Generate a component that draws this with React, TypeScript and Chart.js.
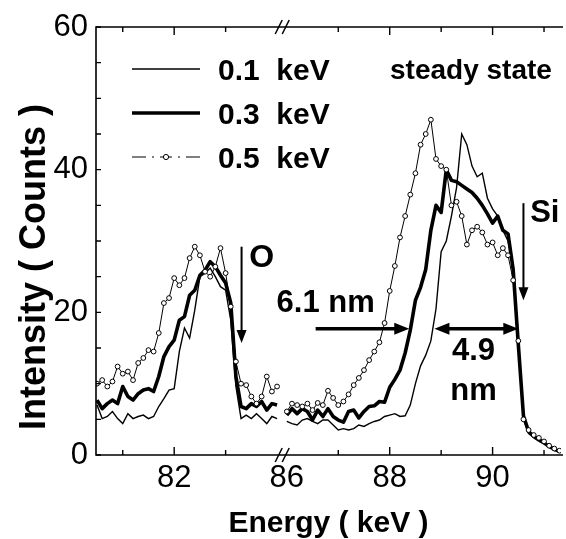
import React, { useEffect, useRef } from 'react';
import { Chart, registerables } from 'chart.js';

Chart.register(...registerables);

// ---------- data ----------
const leftEnergy = [80.5, 80.6, 80.7, 80.8, 80.9, 81.0, 81.1, 81.2, 81.3, 81.4, 81.5, 81.6, 81.7, 81.8, 81.9,
  82.0, 82.1, 82.2, 82.3, 82.4, 82.5, 82.6, 82.7, 82.8, 82.9, 83.0, 83.1, 83.2, 83.3, 83.4, 83.5, 83.6, 83.7,
  83.8, 83.9, 84.0];
const rightEnergy = [86.0, 86.1, 86.2, 86.3, 86.4, 86.5, 86.6, 86.7, 86.8, 86.9, 87.0, 87.1, 87.2, 87.3, 87.4,
  87.5, 87.6, 87.7, 87.8, 87.9, 88.0, 88.1, 88.2, 88.3, 88.4, 88.5, 88.6, 88.7, 88.8, 88.9, 89.0, 89.1, 89.2,
  89.3, 89.4, 89.5, 89.6, 89.7, 89.8, 89.9, 90.0, 90.1, 90.2, 90.3, 90.4, 90.5, 90.6, 90.7, 90.8, 90.9, 91.0,
  91.1, 91.2, 91.3];

const kev01Left = [7.0, 5.1, 5.4, 6.1, 5.1, 4.4, 5.8, 5.1, 5.4, 5.6, 5.1, 5.4, 6.8, 7.9, 9.1, 9.3, 14.5, 17.8,
  16.4, 20.3, 25.0, 25.5, 26.2, 25.0, 23.6, 23.1, 18.9, 9.6, 5.1, 5.6, 5.1, 5.8, 5.1, 4.4, 5.4, 5.1];
const kev03Left = [7.7, 6.5, 7.2, 7.7, 7.2, 9.6, 8.2, 7.7, 8.6, 9.1, 9.3, 8.9, 11.0, 13.8, 15.2, 16.1, 18.9, 19.4,
  22.4, 23.1, 25.2, 25.9, 27.1, 26.4, 25.2, 24.1, 21.3, 11.0, 6.8, 6.5, 7.2, 6.8, 7.5, 6.3, 7.2, 7.0];
const kev05Left = [10.0, 10.5, 9.6, 10.3, 12.4, 11.4, 11.7, 10.5, 12.9, 13.6, 14.7, 14.5, 17.1, 21.3, 22.0, 24.8,
  23.8, 24.8, 27.6, 29.2, 28.0, 25.7, 25.0, 26.4, 29.0, 25.5, 20.8, 13.1, 10.0, 9.8, 8.2, 7.2, 8.2, 11.0, 8.9, 9.6];

const kev01Right = [4.7, 4.4, 4.2, 4.9, 5.1, 4.7, 4.4, 4.9, 4.9, 4.2, 3.5, 3.7, 3.5, 3.7, 4.2, 4.0, 4.4, 4.7, 4.9,
  5.4, 5.6, 5.8, 5.4, 5.5, 7.0, 10.0, 12.5, 14.0, 16.0, 20.5, 28.5, 30.0, 33.5, 37.5, 45.0, 43.5, 40.5, 39.0, 39.5,
  36.0, 34.5, 33.5, 31.5, 30.0, 26.5, 16.0, 5.0, 3.0, 2.5, 2.0, 1.7, 1.2, 0.7, 0.5];
const kev03Right = [5.6, 6.5, 5.8, 6.5, 6.1, 4.9, 6.3, 5.4, 6.5, 5.4, 4.9, 4.6, 6.1, 6.3, 5.2, 6.1, 6.8, 6.9, 7.5,
  7.4, 9.5, 10.6, 11.9, 14.3, 17.5, 21.7, 23.5, 26.0, 31.5, 35.0, 34.0, 40.0, 38.5, 38.3, 37.8, 37.3, 36.8, 36.0,
  35.0, 33.8, 32.5, 33.5, 31.5, 31.0, 26.0, 15.5, 5.5, 3.3, 2.6, 2.1, 1.7, 1.2, 0.8, 0.5];
const kev05Right = [6.1, 7.2, 7.0, 6.8, 7.2, 6.3, 7.3, 7.0, 9.0, 8.0, 7.0, 7.5, 8.5, 9.8, 10.8, 11.9, 13.3, 14.5,
  15.8, 18.5, 23.0, 26.5, 30.5, 33.5, 36.5, 39.5, 43.5, 45.0, 47.0, 41.5, 40.5, 40.0, 35.0, 35.5, 33.5, 29.5, 31.5,
  32.0, 31.2, 29.5, 29.8, 28.0, 29.0, 28.0, 24.5, 16.0, 5.0, 3.5, 2.8, 2.4, 1.9, 1.3, 0.9, 0.6];

const seriesLabels = ['0.1  keV', '0.3  keV', '0.5  keV'];
const xTickLabels = [82, 86, 88, 90];
const xMajorTicks = [82, 88, 90];
const xMinorTicks = [81, 83, 87, 89, 91];
const yTickLabels = [0, 20, 40, 60];
const yMinorTicks = [5, 10, 15, 20, 25, 30, 35, 40, 45, 50, 55];

// ---------- axis break (84.19 on the drawn axis corresponds to 86 keV) ----------
const BREAK_SHIFT = 1.81;
const toAxis = (e: number) => (e >= 85 ? e - BREAK_SHIFT : e);

const FONT = '"Liberation Sans", Arial, Helvetica, sans-serif';

function series(left: number[], right: number[]) {
  return [
    ...leftEnergy.map((e, i) => ({ x: toAxis(e), y: left[i] })),
    { x: 84.1, y: null as any },
    ...rightEnergy.map((e, i) => ({ x: toAxis(e), y: right[i] })),
  ];
}

function head(ctx: CanvasRenderingContext2D, x: number, y: number, ang: number, len: number, half: number) {
  const c = Math.cos(ang), s = Math.sin(ang);
  ctx.beginPath();
  ctx.moveTo(x, y);
  ctx.lineTo(x - len * c + half * s, y - len * s - half * c);
  ctx.lineTo(x - len * c - half * s, y - len * s + half * c);
  ctx.closePath();
  ctx.fill();
}

function arrow(ctx: CanvasRenderingContext2D, x1: number, y1: number, x2: number, y2: number,
  w: number, len: number, half: number, both = false) {
  const ang = Math.atan2(y2 - y1, x2 - x1);
  const c = Math.cos(ang), s = Math.sin(ang);
  ctx.lineWidth = w;
  ctx.beginPath();
  ctx.moveTo(both ? x1 + c * len * 0.7 : x1, both ? y1 + s * len * 0.7 : y1);
  ctx.lineTo(x2 - c * len * 0.7, y2 - s * len * 0.7);
  ctx.stroke();
  head(ctx, x2, y2, ang, len, half);
  if (both) head(ctx, x1, y1, ang + Math.PI, len, half);
}

const decor = {
  id: 'decor',
  afterDraw(chart: any) {
    const { ctx, chartArea: a, scales } = chart;
    const xs = scales.x, ys = scales.y;
    const X = (e: number) => xs.getPixelForValue(toAxis(e));
    const Y = (v: number) => ys.getPixelForValue(v);
    ctx.save();
    ctx.strokeStyle = '#000';
    ctx.fillStyle = '#000';
    ctx.lineCap = 'butt';

    // frame
    ctx.lineWidth = 1.6;
    ctx.beginPath();
    ctx.moveTo(a.right + 2, a.top);
    ctx.lineTo(a.left, a.top);
    ctx.lineTo(a.left, a.bottom);
    ctx.lineTo(a.right + 2, a.bottom);
    ctx.stroke();

    // ticks (inward)
    ctx.lineWidth = 1.4;
    ctx.beginPath();
    [...yTickLabels, ...yMinorTicks].forEach((v) => {
      const py = Y(v);
      ctx.moveTo(a.left, py); ctx.lineTo(a.left + 5, py);
    });
    xMajorTicks.forEach((e) => {
      const px = X(e);
      ctx.moveTo(px, a.bottom); ctx.lineTo(px, a.bottom - 8);
      ctx.moveTo(px, a.top); ctx.lineTo(px, a.top + 8);
    });
    xMinorTicks.forEach((e) => {
      const px = X(e);
      ctx.moveTo(px, a.bottom); ctx.lineTo(px, a.bottom - 5);
      ctx.moveTo(px, a.top); ctx.lineTo(px, a.top + 5);
    });
    ctx.stroke();

    // break marks //
    const bc = xs.getPixelForValue(84.1);
    ctx.lineWidth = 1.5;
    ctx.beginPath();
    [a.top, a.bottom].forEach((ay) => {
      [-3.5, 3.5].forEach((dx) => {
        ctx.moveTo(bc + dx - 3.5, ay + 7);
        ctx.lineTo(bc + dx + 3.5, ay - 7);
      });
    });
    ctx.stroke();

    // legend
    const rows = [69, 113, 157];
    ctx.lineWidth = 1.4;
    ctx.beginPath(); ctx.moveTo(132, rows[0]); ctx.lineTo(200, rows[0]); ctx.stroke();
    ctx.lineWidth = 3.6;
    ctx.beginPath(); ctx.moveTo(132, rows[1]); ctx.lineTo(200, rows[1]); ctx.stroke();
    ctx.lineWidth = 1.2;
    ctx.beginPath();
    [[132, 146], [152, 154], [160, 172], [178, 180], [186, 200]].forEach(([s, e]) => {
      ctx.moveTo(s, rows[2]); ctx.lineTo(e, rows[2]);
    });
    ctx.stroke();
    ctx.beginPath(); ctx.arc(166, rows[2], 2.6, 0, Math.PI * 2);
    ctx.fillStyle = '#fff'; ctx.fill(); ctx.lineWidth = 1; ctx.stroke();
    ctx.fillStyle = '#000';
    ctx.font = `bold 30px ${FONT}`;
    ctx.textBaseline = 'alphabetic';
    ctx.textAlign = 'left';
    seriesLabels.forEach((t, i) => ctx.fillText(t, 218, rows[i] + 11));

    ctx.font = `bold 28px ${FONT}`;
    ctx.fillText('steady state', 390, 79);

    // annotations
    ctx.lineCap = 'butt';
    arrow(ctx, X(83.31), Y(29.2), X(83.31), Y(15.7), 2, 13, 5);
    ctx.font = `bold 32px ${FONT}`;
    ctx.fillText('O', X(83.46), Y(26.4));

    arrow(ctx, X(86.56), Y(17.7), X(88.38), Y(17.7), 3.6, 15, 6);
    ctx.font = `bold 31px ${FONT}`;
    ctx.fillText('6.1 nm', X(85.8), Y(20.1));

    arrow(ctx, X(88.87), Y(17.7), X(90.5), Y(17.7), 3.6, 15, 6, true);
    ctx.textAlign = 'center';
    ctx.fillText('4.9', X(89.63), Y(13.3));
    ctx.fillText('nm', X(89.63), Y(7.7));

    arrow(ctx, X(90.6), Y(35.3), X(90.6), Y(21.7), 2, 13, 5);
    ctx.textAlign = 'left';
    ctx.fillText('Si', X(90.73), Y(32.7));

    // axis titles
    ctx.font = `bold 30px ${FONT}`;
    ctx.textAlign = 'center';
    ctx.fillText('Energy ( keV )', (a.left + a.right) / 2, 532);
    ctx.save();
    ctx.translate(45, 267);
    ctx.rotate(-Math.PI / 2);
    ctx.font = `bold 36px ${FONT}`;
    ctx.fillText('Intensity ( Counts )', 0, 0);
    ctx.restore();

    ctx.restore();
  },
};

export default function App() {
  const ref = useRef<HTMLCanvasElement>(null);
  useEffect(() => {
    if (!ref.current) return;
    const chart = new Chart(ref.current, {
      type: 'line',
      data: {
        datasets: [
          {
            label: seriesLabels[2], data: series(kev05Left, kev05Right) as any,
            borderColor: '#000', borderWidth: 1, pointRadius: 2.4, pointBackgroundColor: '#fff',
            pointBorderColor: '#000', pointBorderWidth: 1, tension: 0,
          },
          {
            label: seriesLabels[1], data: series(kev03Left, kev03Right) as any,
            borderColor: '#000', borderWidth: 3.6, pointRadius: 0, tension: 0, borderJoinStyle: 'round',
          },
          {
            label: seriesLabels[0], data: series(kev01Left, kev01Right) as any,
            borderColor: '#000', borderWidth: 1.4, pointRadius: 0, tension: 0,
          },
        ],
      },
      options: {
        responsive: false,
        animation: false,
        devicePixelRatio: 1,
        layout: { padding: { top: 27, left: 0, right: 0, bottom: 0 } },
        plugins: { legend: { display: false }, tooltip: { enabled: false } },
        events: [],
        scales: {
          x: {
            type: 'linear', min: 80.48, max: 89.52,
            grid: { display: false, drawTicks: false }, border: { display: false },
            afterBuildTicks: (s: any) => { s.ticks = xTickLabels.map((v) => ({ value: toAxis(v) })); },
            afterFit: (s: any) => { s.height = 84; },
            ticks: {
              autoSkip: false, maxRotation: 0, padding: 5, color: '#000',
              font: { family: FONT, size: 31 },
              callback: (v: any) => {
                const t = xTickLabels.find((e) => Math.abs(toAxis(e) - v) < 1e-6);
                return t === undefined ? '' : String(t);
              },
            },
          },
          y: {
            type: 'linear', min: 0, max: 60,
            grid: { display: false, drawTicks: false }, border: { display: false },
            afterBuildTicks: (s: any) => { s.ticks = yTickLabels.map((v) => ({ value: v })); },
            afterFit: (s: any) => { s.width = 96; },
            ticks: { padding: 8, color: '#000', font: { family: FONT, size: 31 } },
          },
        },
      } as any,
      plugins: [decor],
    });
    return () => chart.destroy();
  }, []);
  return (
    <div style={{ position: 'absolute', left: 0, top: 0, width: 566, height: 539, background: '#fff' }}>
      <canvas ref={ref} width={566} height={539} />
    </div>
  );
}
